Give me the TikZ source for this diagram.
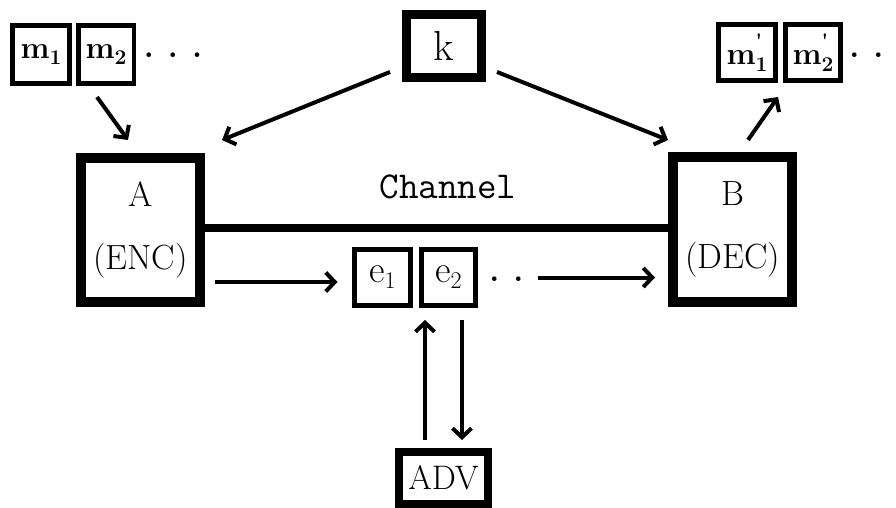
\documentclass[tikz,border=0pt]{standalone}
\usetikzlibrary{arrows.meta}
% indexed block label: #1 base, #2 index size, #3 index drop, #4 index, #5 mark above
\newcommand\idxlabel[5]{#1\rlap{\raisebox{#3}{\fontsize{#2}{#2}\selectfont #5}}\raisebox{-#3}{\fontsize{#2}{#2}\selectfont #4}}
\begin{document}
\begin{tikzpicture}[x=1pt,y=-1pt,
  box/.style={draw=black,inner sep=0pt,outer sep=0pt,fill=white},
  msg/.style={box,line width=4.5pt,minimum height=58pt,font=\fontsize{31}{34}\selectfont\bfseries},
  sym/.style={box,line width=5pt,minimum width=55pt,minimum height=56pt,font=\fontsize{38}{42}\selectfont},
  party/.style={box,line width=10pt,minimum width=119pt,minimum height=144pt,align=center,font=\fontsize{35}{63}\selectfont},
  arr/.style={line width=4pt,-{Straight Barb[length=9pt,width=19pt,line width=4pt]}},
  dots/.style={anchor=base,inner sep=0pt,font=\fontsize{32}{32}\selectfont\bfseries}
]
\useasboundingbox (0,0) rectangle (896,508);

% plaintext blocks
\node[msg,minimum width=57pt] (m1) at (41,54.5) {\idxlabel{m}{21}{6pt}{1}{}};
\node[msg,minimum width=55.5pt] (m2) at (106,54.5) {\idxlabel{m}{21}{6pt}{2}{}};
\node[dots] (md) at (173,58) {.\hspace{14pt}.\hspace{14pt}.};

% shared key
\node[box,line width=9pt,minimum width=75pt,minimum height=63pt,font=\fontsize{42}{46}\selectfont] (k) at (444,46) {k};

% decrypted blocks
\node[msg,minimum width=57pt,minimum height=56pt] (p1) at (747,52.5) {\idxlabel{m}{21}{7pt}{1}{\raisebox{9pt}{\textquotesingle}}};
\node[msg,minimum width=55pt,minimum height=56pt] (p2) at (813,52.5) {\idxlabel{m}{21}{7pt}{2}{\raisebox{9pt}{\textquotesingle}}};
\node[dots] (pd) at (866.5,58) {.\hspace{14pt}.};

% sender and receiver
\node[party] (A) at (140.5,230) {A\\(ENC)};
\node[party,minimum height=145pt] (B) at (732.5,229.5) {B\\(DEC)};

% channel
\draw[line width=8pt] (A.east |- 0,228) -- (B.west |- 0,228);
\node[font=\ttfamily\fontsize{38}{40}\selectfont,inner sep=0pt] (ch) at (448,187) {Channel};

% ciphertext blocks
\node[sym,minimum width=56pt] (e1) at (382.5,277.5) {\idxlabel{e}{24}{6pt}{1}{}};
\node[sym,minimum width=54pt] (e2) at (448.5,277.5) {\idxlabel{e}{24}{6pt}{2}{}};
\node[dots] (ed) at (506.5,281) {.\hspace{14pt}.};

% adversary
\node[box,line width=8pt,minimum width=89pt,minimum height=52pt,font=\fontsize{34}{36}\selectfont] (adv) at (443.5,478) {ADV};

% connectors
\draw[arr] ([shift={(-9,13.5)}]m2.south) -- ([shift={(-12.5,-18)}]A.north);
\draw[arr] ([shift={(-16.5,-5.5)}]k.south west) -- ([shift={(22,-18)}]A.north east);
\draw[arr] ([shift={(15.5,-5.5)}]k.south east) -- ([shift={(-5,-17)}]B.north west);
\draw[arr] ([shift={(15.5,-17)}]B.north) -- ([shift={(2.5,16.5)}]p1.south east);
\draw[arr] ([shift={(15,4.5)}]A.east |- e1.west) -- ([shift={(-17,4.5)}]e1.west);
\draw[arr] ([xshift=62pt]e2.east) -- ([xshift=-18pt]B.west |- e2.east);
\draw[arr] ([shift={(-18.5,-12)}]adv.north) -- ([shift={(-18.5,14.5)}]adv.north |- e1.south);
\draw[arr] ([shift={(18.5,14.5)}]adv.north |- e2.south) -- ([shift={(18.5,-12)}]adv.north);
\end{tikzpicture}
\end{document}
